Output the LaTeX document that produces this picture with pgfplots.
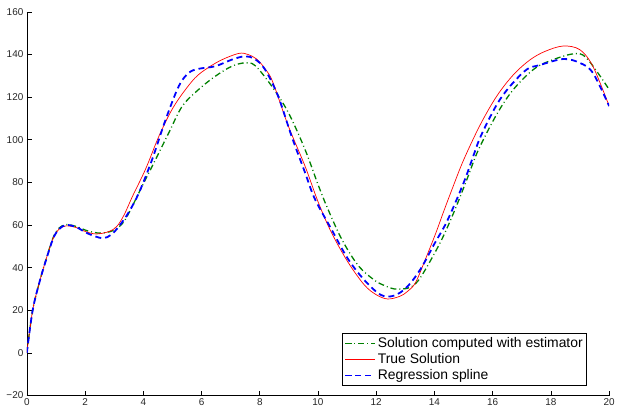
\documentclass[border=0pt]{standalone}
\usepackage{fontspec}
\setmainfont{Liberation Sans}
\usepackage{pgfplots}
\pgfplotsset{compat=1.18}
\definecolor{mgreen}{RGB}{0,128,0}

\begin{document}
\begin{tikzpicture}
\begin{axis}[
    scale only axis,
    width=586pt,
    height=386pt,
    xmin=0, xmax=20,
    ymin=-20, ymax=160,
    axis x line=bottom,
    axis y line=left,
    axis line style={-, black, line width=0.6pt},
    tick align=inside,
    major tick length=5pt,
    tick style={black, line width=0.6pt},
    xtick={0,2,...,20},
    ytick={-20,0,20,40,60,80,100,120,140,160},
    yticklabels={−20,0,20,40,60,80,100,120,140,160},
    /pgf/number format/assume math mode=true,
    tick label style={font=\fontsize{10}{12}\selectfont, text=black!85},
    legend style={at={(0.962,0.026)}, anchor=south east, line width=0.6pt,
        font=\fontsize{14}{16}\selectfont, inner sep=2pt, row sep=0.5pt},
    legend cell align=left,
    legend image post style={xscale=1.75},
    extra description/.code={
        \path ([xshift=-27pt,yshift=12pt]0,1) rectangle ([xshift=5pt,yshift=-12pt]1,0);
    },
]
\addplot[color=mgreen, draw=mgreen, line width=1.3pt, dash pattern=on 6pt off 3pt on 1pt off 3pt, smooth, tension=0.55] coordinates {
(0,0) (0.2,20) (0.44,33.5) (0.67,44.3) (0.9,54) (1.1,58.5) (1.35,60.2) (1.7,59.3) (2.1,57.2) (2.5,56.2) (2.83,56.8) (3.1,58.5) (3.4,63) (3.97,78.5) (4.43,91) (4.88,103.4) (5.34,115.8) (5.9,123.6) (6.47,129.8) (7.04,134.5) (7.5,136.1) (7.84,134.8) (8.41,125.2) (8.98,112.8) (9.55,95.6) (10.0,79) (10.23,71) (10.79,54) (11.37,41.2) (11.93,34.2) (12.3,31.5) (12.62,30) (13.07,30.3) (13.35,32.5) (13.64,38) (14.21,52.1) (14.67,66.1) (15.12,81.6) (15.5,95) (16.14,112) (16.71,123.6) (17.4,133) (17.96,137) (18.76,140.3) (19.22,138.4) (20,123.6)
};
\addlegendentry{Solution computed with estimator}
\addplot[color=red, draw=red, line width=0.7pt, smooth, tension=0.55] coordinates {
(0,0) (0.2,20) (0.44,33.5) (0.67,44.3) (0.9,53.7) (1.1,58) (1.35,59.6) (1.7,58.8) (2.04,56.8) (2.4,55.8) (2.83,57) (3.1,59.5) (3.35,65) (3.63,73.5) (4.08,86.3) (4.54,101.8) (4.99,114.3) (5.45,123.6) (5.9,130.6) (6.59,136.8) (7.27,140.5) (7.6,140) (7.9,137.8) (8.2,133) (8.45,127) (8.98,106.5) (9.55,87.8) (10.0,71) (10.45,56.8) (11.02,42.8) (11.59,31.9) (12.0,27.3) (12.39,25.3) (12.8,26.5) (13.07,28.8) (13.35,33) (13.7,44.3) (14.04,56) (14.32,66.5) (14.61,77) (15.0,90.5) (15.57,107) (16.14,120.5) (16.71,130.5) (17.28,137.5) (17.8,141.5) (18.42,144) (18.99,142.3) (19.44,134.5) (20,115.8)
};
\addlegendentry{True Solution}
\addplot[color=blue, draw=blue, line width=1.8pt, dash pattern=on 6pt off 4pt, smooth, tension=0.55] coordinates {
(0,0) (0.2,20) (0.44,33.5) (0.67,44) (0.9,53.5) (1.1,58) (1.35,60) (1.7,59) (2.1,56) (2.6,53.8) (2.9,55.5) (3.17,59.5) (3.5,66) (3.86,75.4) (4.31,91) (4.77,109.6) (5.22,125.2) (5.56,131.4) (5.9,133.3) (6.47,134.5) (7.04,137.6) (7.5,139.2) (7.84,137.8) (8.18,133) (8.63,120.5) (9.09,101.8) (9.55,84.8) (9.89,72.3) (10.45,58.3) (11.02,44.3) (11.59,34.2) (12.16,27.2) (12.62,26.9) (13.07,31.1) (13.53,39.5) (13.99,51) (14.44,62) (15.01,80.1) (15.35,93) (15.6,102) (16.14,116.5) (16.6,125.2) (17.17,133) (17.6,135) (18.42,137.9) (18.99,136.1) (19.44,131.4) (20,115.8)
};
\addlegendentry{Regression spline}
\end{axis}
\end{tikzpicture}
\end{document}
